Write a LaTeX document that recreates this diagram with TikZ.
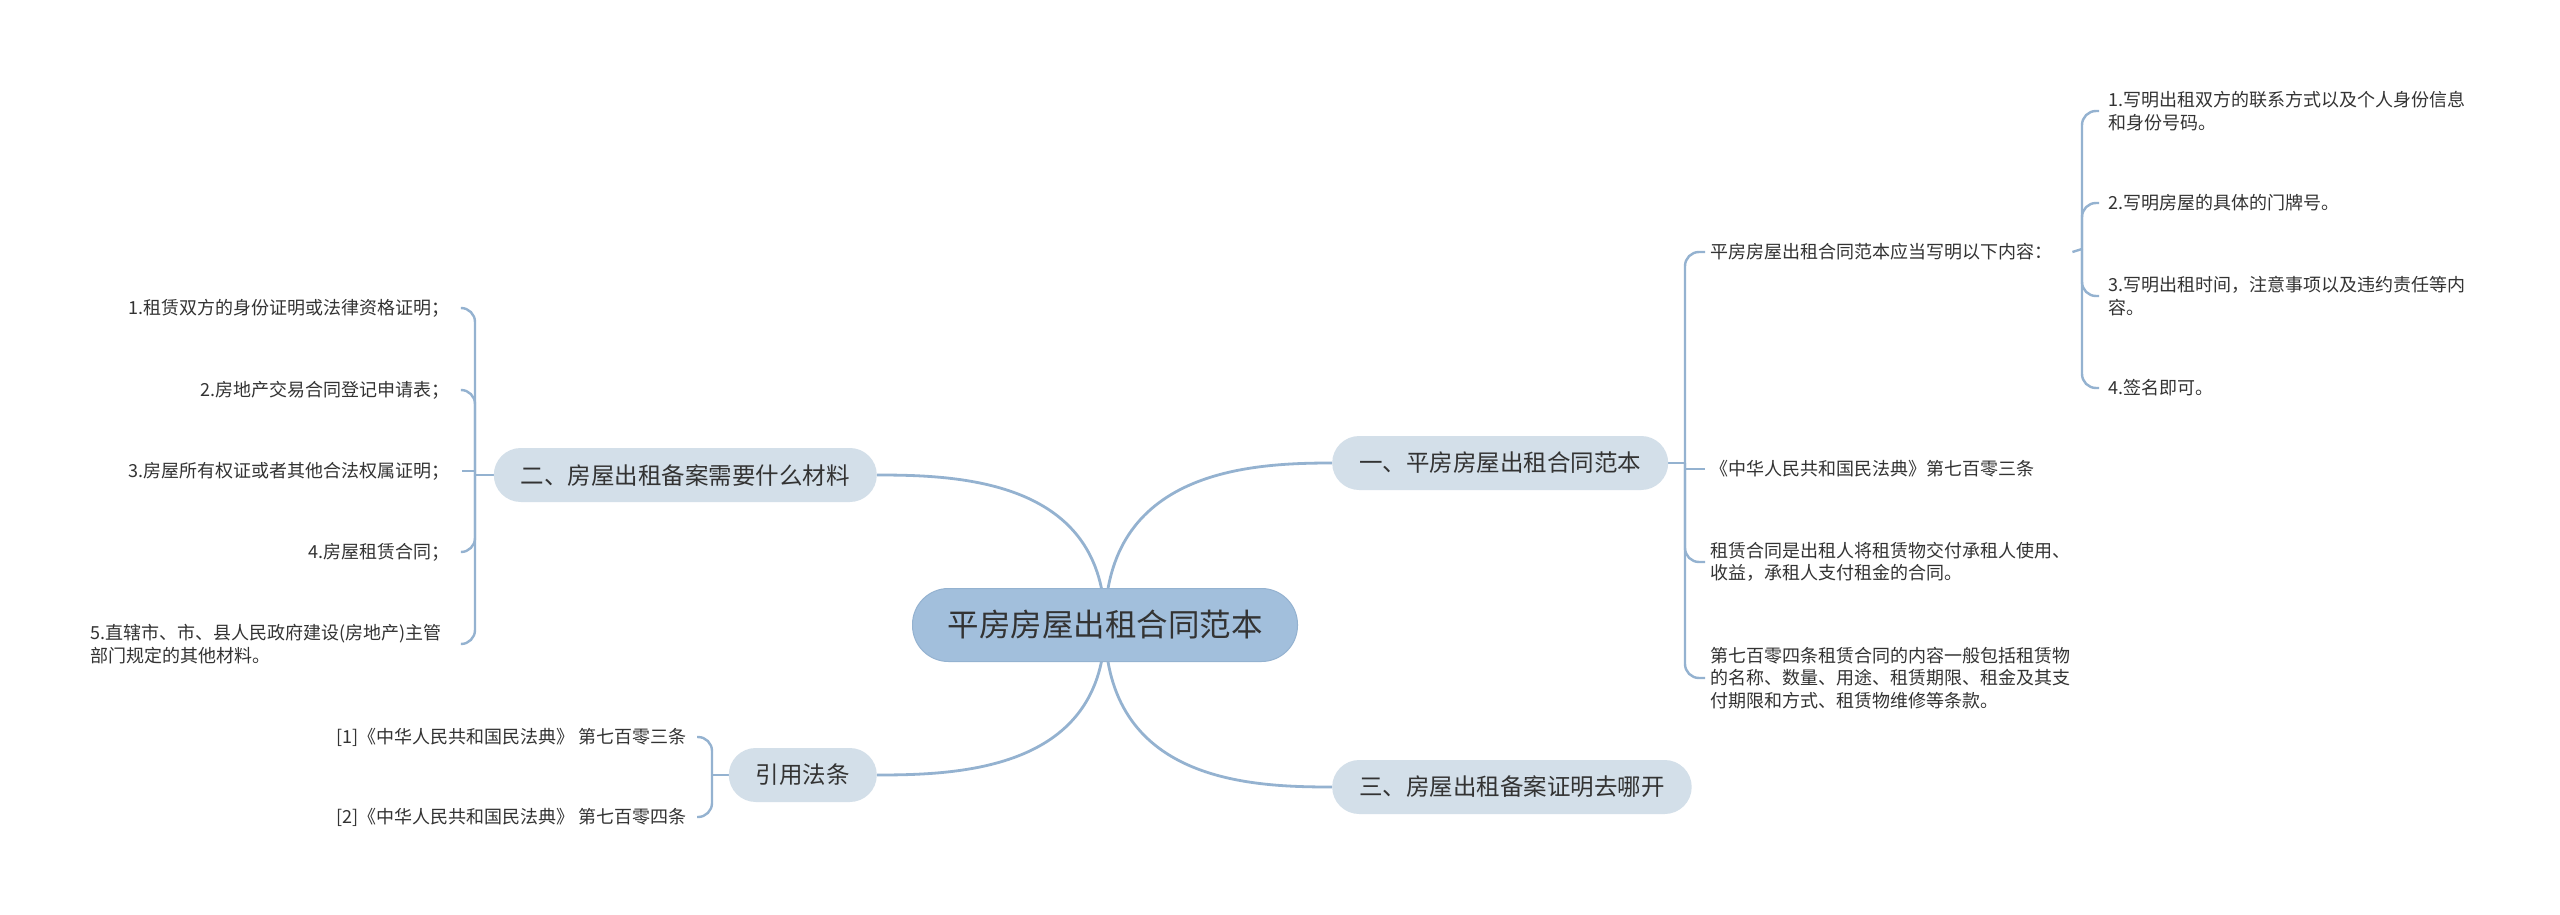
\documentclass[tikz,border=0pt]{standalone}
\usepackage{fontspec}
\newfontfamily\cjk{Noto Sans CJK SC}
\usetikzlibrary{backgrounds}
\definecolor{linec}{HTML}{94B2D0}
\definecolor{rootc}{HTML}{A2BFDC}
\definecolor{brc}{HTML}{D3DFE9}
\definecolor{txt}{HTML}{333333}
\pgfdeclarelayer{canvas}
\pgfsetlayers{canvas,background,main}
\begin{document}
\begin{tikzpicture}[x=1pt,y=-1pt,
  root/.style={fill=rootc, draw=linec, line width=1pt, rounded corners=36pt, minimum height=73pt, inner xsep=35pt, inner ysep=0pt, font=\cjk\fontsize{31.5}{36}\selectfont, text=txt},
  branch/.style={fill=brc, rounded corners=27pt, minimum height=54pt, inner xsep=27pt, inner ysep=0pt, font=\cjk\fontsize{23.5}{28}\selectfont, text=txt},
  leaf/.style={font=\cjk\fontsize{18}{22.5}\selectfont, text=txt, inner ysep=2pt},
  leafR/.style={leaf, anchor=west, inner xsep=5pt, align=left},
  leafG/.style={leaf, anchor=west, inner xsep=9pt, align=left},
  leafL/.style={leaf, anchor=east, inner xsep=12pt, align=right},
  conn/.style={draw=linec, line width=2.8pt},
  brk/.style={draw=linec, line width=2.4pt, rounded corners=14pt},
  brks/.style={draw=linec, line width=2.4pt},
]
\begin{pgfonlayer}{canvas}
\fill[white] (0,0) rectangle (2560,915);
\end{pgfonlayer}
\useasboundingbox (0,0) rectangle (2560,915);

% main nodes
\node[root] (root) at (1105,625) {平房房屋出租合同范本};
\node[branch, anchor=west] (b1) at (1332,463) {一、平房房屋出租合同范本};
\node[branch, anchor=east] (b2) at (877,475) {二、房屋出租备案需要什么材料};
\node[branch, anchor=west] (b3) at (1332,787) {三、房屋出租备案证明去哪开};
\node[branch, anchor=east] (b4) at (877,775) {引用法条};

% junctions
\coordinate (J) at (1685,463);
\coordinate (J1) at (2082,249);
\coordinate (J2) at (475,475);
\coordinate (J3) at (712,775);

% branch 1 children
\node[leafR] (c1) at (1705,252) {平房房屋出租合同范本应当写明以下内容：};
\node[leafR] (c2) at (1705,469) {《中华人民共和国民法典》第七百零三条};
\node[leafR] (c3) at (1705,562) {租赁合同是出租人将租赁物交付承租人使用、\\收益，承租人支付租金的合同。};
\node[leafR] (c4) at (1705,678) {第七百零四条租赁合同的内容一般包括租赁物\\的名称、数量、用途、租赁期限、租金及其支\\付期限和方式、租赁物维修等条款。};

% grandchildren
\node[leafG] (g1) at (2099,111) {1.写明出租双方的联系方式以及个人身份信息\\和身份号码。};
\node[leafG] (g2) at (2099,203) {2.写明房屋的具体的门牌号。};
\node[leafG] (g3) at (2099,296) {3.写明出租时间，注意事项以及违约责任等内\\容。};
\node[leafG] (g4) at (2099,388) {4.签名即可。};

% branch 2 children
\node[leafL] (m1) at (462,308) {1.租赁双方的身份证明或法律资格证明；};
\node[leafL] (m2) at (462,390) {2.房地产交易合同登记申请表；};
\node[leafL] (m3) at (462,471) {3.房屋所有权证或者其他合法权属证明；};
\node[leafL] (m4) at (462,552) {4.房屋租赁合同；};
\node[leafL, align=left, inner xsep=20pt] (m5) at (462,644) {5.直辖市、市、县人民政府建设(房地产)主管\\部门规定的其他材料。};

% citation children
\node[leafL, inner xsep=10pt] (r1) at (697,737) {[1]《中华人民共和国民法典》 第七百零三条};
\node[leafL, inner xsep=10pt] (r2) at (697,817) {[2]《中华人民共和国民法典》 第七百零四条};

\begin{pgfonlayer}{background}
  \draw[conn] (root.center) .. controls (1105,480) and (960,475) .. (b2.east);
  \draw[conn] (root.center) .. controls (1105,470) and (1250,463) .. (b1.west);
  \draw[conn] (root.center) .. controls (1105,770) and (960,775) .. (b4.east);
  \draw[conn] (root.center) .. controls (1105,782) and (1250,787) .. (b3.west);

  \draw[brks] (b1.east) -- (J);
  \draw[brk] (J) |- (c1.west);
  \draw[brks] (J) |- (c2.west);
  \draw[brk] (J) |- (c3.west);
  \draw[brk] (J) |- (c4.west);

  \draw[brks] ([xshift=15pt]c1.east) -- (J1);
  \foreach \n in {g1,g2,g3,g4} \draw[brk] (J1) |- (\n.west);

  \draw[brks] (b2.west) -- (J2);
  \foreach \n in {m1,m2,m4,m5} \draw[brk] (J2) |- (\n.east);
  \draw[brks] (J2) |- (m3.east);

  \draw[brks] (b4.west) -- (J3);
  \foreach \n in {r1,r2} \draw[brk] (J3) |- (\n.east);
\end{pgfonlayer}
\end{tikzpicture}
\end{document}
